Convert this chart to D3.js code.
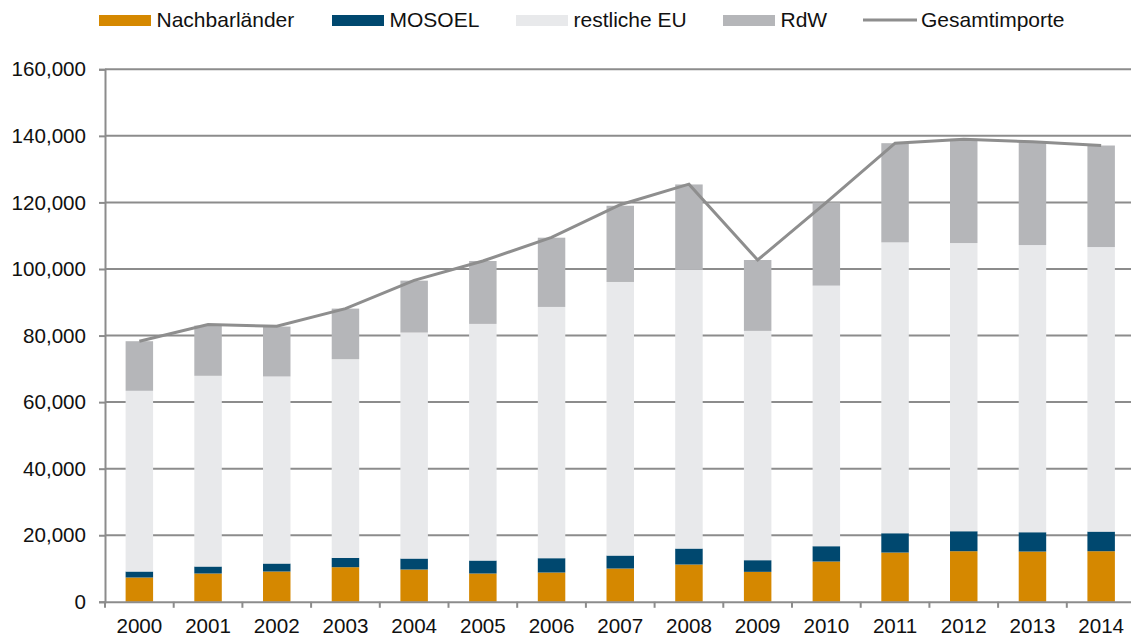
<!DOCTYPE html>
<html>
<head>
<meta charset="utf-8">
<script src="https://cdn.jsdelivr.net/npm/d3@7/dist/d3.min.js"></script>
<style>
  html, body { margin: 0; padding: 0; background: #fff; }
  svg { display: block; font-family: "Liberation Sans", Arial, sans-serif; }
</style>
</head>
<body>
<svg id="chart" width="1131" height="638"></svg>
<script>
const years = ["2000","2001","2002","2003","2004","2005","2006","2007","2008","2009","2010","2011","2012","2013","2014"];
const nachbarlaender = [7300, 8500, 9100, 10400, 9700, 8500, 8800, 10000, 11200, 9000, 12100, 14800, 15200, 15100, 15200];
const mosoel = [1800, 2100, 2400, 2800, 3300, 3900, 4300, 3900, 4800, 3500, 4600, 5800, 6000, 5800, 5900];
const restlicheEU = [54300, 57300, 56200, 59700, 67900, 71100, 75500, 82200, 83800, 68900, 78300, 87400, 86600, 86300, 85500];
const rdw = [14900, 15100, 15000, 15200, 15600, 18900, 20800, 22900, 25600, 21300, 25000, 29800, 31300, 31000, 30500];
const gesamtimporte = [78300, 83300, 82800, 88100, 96600, 102400, 109500, 119300, 125500, 102700, 120000, 137800, 139000, 138200, 137100];
const yTicks = [0, 20000, 40000, 60000, 80000, 100000, 120000, 140000, 160000];
const seriesNames = ["Nachbarländer", "MOSOEL", "restliche EU", "RdW"];
const lineName = "Gesamtimporte";

const colors = { "Nachbarländer": "#d58800", "MOSOEL": "#00486f", "restliche EU": "#e8e9eb", "RdW": "#b5b6b9" };
const lineColor = "#8e8e8e";
const gridColor = "#8c8c8c";
const fontSize = 20.6;

const svg = d3.select("#chart");
const mLeft = 105, mRight = 1135.5, mTop = 69.3, mBottom = 601.8;

const x = d3.scaleBand().domain(years).range([mLeft, mRight]).paddingInner(0.6).paddingOuter(0.3);
const y = d3.scaleLinear().domain([0, 160000]).range([mBottom, mTop]);

const rows = years.map((yr, i) => ({
  year: yr,
  "Nachbarländer": nachbarlaender[i],
  "MOSOEL": mosoel[i],
  "restliche EU": restlicheEU[i],
  "RdW": rdw[i]
}));
const stacked = d3.stack().keys(seriesNames)(rows);

// gridlines
svg.append("g").selectAll("line").data(yTicks.filter(d => d > 0)).join("line")
  .attr("x1", mLeft).attr("x2", 1131)
  .attr("y1", d => y(d)).attr("y2", d => y(d))
  .attr("stroke", gridColor).attr("stroke-width", 2);

// bars
svg.append("g").selectAll("g").data(stacked).join("g")
  .attr("fill", s => colors[s.key])
  .selectAll("rect").data(s => s).join("rect")
  .attr("x", d => x(d.data.year))
  .attr("width", x.bandwidth())
  .attr("y", d => y(d[1]))
  .attr("height", d => y(d[0]) - y(d[1]));

// total line
const line = d3.line().x((d, i) => x(years[i]) + x.bandwidth() / 2).y(d => y(d));
svg.append("path").datum(gesamtimporte)
  .attr("d", line).attr("fill", "none")
  .attr("stroke", lineColor).attr("stroke-width", 3).attr("stroke-linejoin", "miter");

// y axis
const yAxis = d3.axisLeft(y).tickValues(yTicks).tickSize(6).tickPadding(13)
  .tickFormat(d3.format(","));
const gy = svg.append("g").attr("transform", `translate(${mLeft},0)`).call(yAxis);
gy.select(".domain").attr("stroke", gridColor).attr("stroke-width", 2);
gy.selectAll(".tick line").attr("stroke", gridColor).attr("stroke-width", 2);
gy.selectAll(".tick text").attr("font-size", fontSize).attr("fill", "#111").attr("font-family", "Liberation Sans, Arial, sans-serif");

// x axis
const xAxis = d3.axisBottom(x).tickSize(0).tickPadding(17);
const gx = svg.append("g").attr("transform", `translate(0,${mBottom})`).call(xAxis);
gx.select(".domain").attr("stroke", gridColor).attr("stroke-width", 2);
gx.selectAll(".tick text").attr("font-size", fontSize).attr("fill", "#111").attr("font-family", "Liberation Sans, Arial, sans-serif");
// boundary ticks
const step = x.step();
svg.append("g").selectAll("line").data(d3.range(years.length + 1)).join("line")
  .attr("x1", k => mLeft + k * step).attr("x2", k => mLeft + k * step)
  .attr("y1", mBottom).attr("y2", mBottom + 6)
  .attr("stroke", gridColor).attr("stroke-width", 2);

// legend
const legendItems = seriesNames.map(n => ({ name: n, type: "rect" })).concat([{ name: lineName, type: "line" }]);
const legendX = [99, 332, 516, 723, 863];
const lg = svg.append("g");
legendItems.forEach((it, i) => {
  const g = lg.append("g").attr("transform", `translate(${legendX[i]},0)`);
  if (it.type === "rect") {
    g.append("rect").attr("x", 0).attr("y", 15).attr("width", 52).attr("height", 11).attr("fill", colors[it.name]);
    g.append("text").attr("x", 57.5).attr("y", 27).attr("font-size", fontSize + 0.4).attr("fill", "#111").text(it.name);
  } else {
    g.append("line").attr("x1", 0).attr("x2", 54).attr("y1", 20).attr("y2", 20)
      .attr("stroke", lineColor).attr("stroke-width", 3);
    g.append("text").attr("x", 58).attr("y", 27).attr("font-size", fontSize + 0.4).attr("fill", "#111").text(it.name);
  }
});
</script>
</body>
</html>
